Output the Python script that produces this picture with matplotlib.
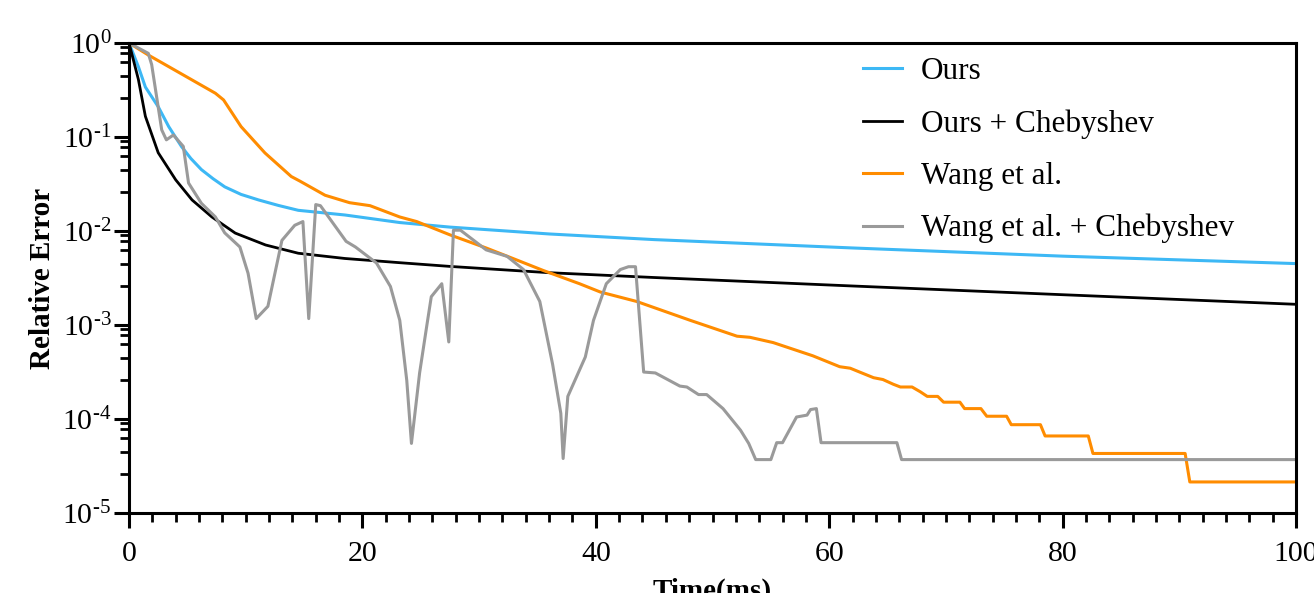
import matplotlib
matplotlib.use('Agg')
import matplotlib.pyplot as plt
from matplotlib.ticker import MultipleLocator, LogLocator, FixedLocator, NullFormatter

plt.rcParams['font.family'] = ['Liberation Serif', 'DejaVu Serif']
plt.rcParams['mathtext.fontset'] = 'custom'
plt.rcParams['mathtext.rm'] = 'Liberation Serif'
plt.rcParams['mathtext.it'] = 'Liberation Serif:italic'
plt.rcParams['mathtext.bf'] = 'Liberation Serif:bold'

# values (time in ms, relative error)
ours_x = [0, 0.8, 1.4, 2.5, 3.4, 4.5, 5.3, 6.2, 7.2, 8.2, 9.6, 11.1, 12.8, 14.5, 18.5, 23.2, 27.5,
          36, 45, 62, 80, 100]
ours_y = [1, 0.56, 0.34, 0.21, 0.129, 0.079, 0.059, 0.045, 0.036, 0.0295, 0.0245, 0.0214, 0.0187,
          0.0166, 0.0148, 0.0123, 0.011, 0.0093, 0.0081, 0.0066, 0.0054, 0.0045]

cheb_x = [0, 0.8, 1.4, 2.5, 4.0, 5.4, 7.1, 9.1, 11.7, 14.5, 18.5, 23.2, 27.5, 36, 45, 62, 80, 100]
cheb_y = [1, 0.41, 0.166, 0.068, 0.035, 0.0214, 0.0141, 0.0095, 0.0071, 0.0058, 0.0051, 0.0046,
          0.0042, 0.0036, 0.0032, 0.0026, 0.0021, 0.00166]

wang_x = [0, 1.65, 4.65, 7.4, 8.1, 9.6, 11.65, 13.9, 14.65, 16.8, 18.9, 20.65, 23.2, 24.65, 27.5,
          30.6, 32.9, 35.5, 38.6, 40.4, 43.5, 48.1, 52.1, 53.2, 55.2, 58.6, 60.9, 61.8, 62.6, 63.8,
          64.6, 65.5, 66.1, 67.1, 67.8, 68.4, 69.3, 69.8, 71.2, 71.6, 73.0, 73.5, 75.2, 75.6, 78.1,
          78.5, 82.2, 82.6, 90.5, 90.9, 100]
wang_y = [1, 0.745, 0.457, 0.292, 0.248, 0.129, 0.0676, 0.038, 0.0339, 0.024, 0.020, 0.0186,
          0.0141, 0.0126, 0.0091, 0.0066, 0.0051, 0.0038, 0.00275, 0.00224, 0.00178, 0.00112,
          0.00076, 0.00074, 0.00065, 0.00047, 0.00036, 0.000347, 0.000316, 0.000275, 0.000263,
          0.000234, 0.000219, 0.000219, 0.000195, 0.000174, 0.000174, 0.000151, 0.000151,
          0.000129, 0.000129, 0.000107, 0.000107, 8.7e-5, 8.7e-5, 6.6e-5, 6.6e-5, 4.3e-5, 4.3e-5,
          2.14e-5, 2.14e-5]

wcheb_x = [0, 1.65, 1.94, 2.8, 3.2, 3.8, 4.65, 5.1, 6.2, 7.4, 8.2, 9.5, 10.2, 10.9, 11.9, 13.1,
           14.2, 14.9, 15.4, 16.0, 16.4, 18.6, 19.4, 21.2, 22.4, 23.2, 23.8, 24.2, 24.5, 24.9, 25.5,
           25.9, 26.8, 27.4, 27.8, 28.4, 30.6, 32.4, 33.8, 35.2, 36.3, 37.0, 37.2, 37.6, 39.1, 39.8,
           40.9, 42.1, 42.8, 43.4, 44.1, 45.1, 47.2, 47.8, 48.8, 49.5, 50.9, 52.4, 53.1, 53.7, 55.0,
           55.5, 56.0, 57.2, 58.1, 58.4, 58.9, 59.3, 65.8, 66.2, 100]
wcheb_y = [1, 0.776, 0.589, 0.119, 0.0933, 0.105, 0.0794, 0.0324, 0.0197, 0.0141, 0.00955, 0.00676,
           0.00355, 0.00117, 0.00158, 0.00794, 0.0115, 0.0126, 0.00117, 0.0191, 0.0186, 0.00776,
           0.00676, 0.00457, 0.00257, 0.00112, 0.000257, 5.5e-5, 0.000115, 0.000309, 0.000955,
           0.002, 0.00275, 0.00066, 0.0102, 0.0102, 0.0063, 0.00537, 0.00389, 0.00178, 0.00038,
           0.000115, 3.8e-5, 0.000174, 0.000457, 0.00112, 0.00275, 0.00389, 0.00417, 0.00417,
           0.000316, 0.000309, 0.000224, 0.000219, 0.000182, 0.000182, 0.000129, 7.6e-5, 5.5e-5,
           3.7e-5, 3.7e-5, 5.6e-5, 5.6e-5, 0.000105, 0.00011, 0.000126, 0.000129, 5.6e-5, 5.6e-5,
           3.7e-5, 3.7e-5]

decades = [-5, -4, -3, -2, -1, 0]

fig = plt.figure(figsize=(13.14, 5.93), dpi=100)
ax = fig.add_axes([0.0982, 0.1349, 0.8881, 0.7926])

ax.plot(ours_x, ours_y, color='#3db8f5', lw=2.2, label='Ours')
ax.plot(cheb_x, cheb_y, color='black', lw=2.0, label='Ours + Chebyshev')
ax.plot(wang_x, wang_y, color='#ff8c00', lw=2.2, label='Wang et al.')
ax.plot(wcheb_x, wcheb_y, color='#9a9a9a', lw=2.2, label='Wang et al. + Chebyshev')

ax.set_yscale('log')
ax.set_xlim(0, 100)
ax.set_ylim(1e-5, 1)

ax.xaxis.set_major_locator(MultipleLocator(20))
ax.xaxis.set_minor_locator(MultipleLocator(2))
ax.yaxis.set_major_locator(FixedLocator([10.0 ** d for d in decades]))
ax.yaxis.set_minor_locator(LogLocator(base=10, subs=(2.6, 4.5, 6.3, 7.8, 9.0)))
ax.yaxis.set_minor_formatter(NullFormatter())
ax.set_yticklabels([r'$\mathregular{10^{\text{%s}}}$' % str(d) for d in decades])

for s in ax.spines.values():
    s.set_linewidth(2.2)
ax.tick_params(which='major', direction='out', length=10.8, width=2.2, labelsize=21.5, pad=2)
ax.tick_params(which='minor', direction='out', length=6.5, width=2.0)
ax.tick_params(axis='x', which='major', pad=9)
ax.tick_params(top=False, right=False, which='both')

ax.set_ylabel('Relative Error', fontsize=21, fontweight='bold', labelpad=4)
ax.set_xlabel('Time(ms)', fontsize=21, fontweight='bold', labelpad=8)

ax.legend(loc='upper left', bbox_to_anchor=(0.629, 0.97), frameon=False, fontsize=22.5,
          handlelength=1.25, handletextpad=0.6, labelspacing=0.74, borderpad=0, borderaxespad=0)

fig.savefig('out.png', dpi=100)
